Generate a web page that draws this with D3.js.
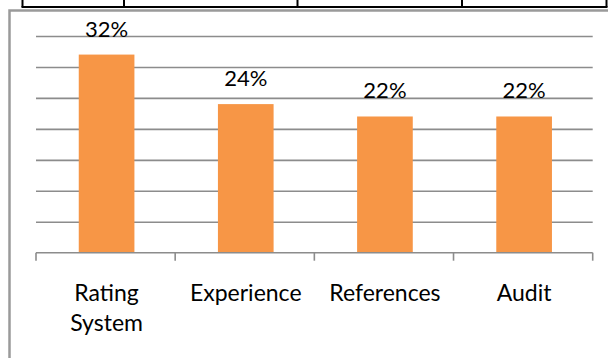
<!DOCTYPE html>
<html>
<head>
<meta charset="utf-8">
<script src="https://cdn.jsdelivr.net/npm/d3@7"></script>
<style>
  html, body { margin: 0; padding: 0; background: #ffffff; }
  svg { display: block; }
  text { font-family: Lato, "Open Sans", sans-serif; fill: #000; }
</style>
</head>
<body>
<script>
// Survey criteria and the share of respondents naming each one
const categories = ["Rating System", "Experience", "References", "Audit"];
const shares = [32, 24, 22, 22];
const gridTicks = [5, 10, 15, 20, 25, 30, 35];
const valueLabels = ["32%", "24%", "22%", "22%"];
// Category labels broken into display lines
const categoryLines = [["Rating", "System"], ["Experience"], ["References"], ["Audit"]];
// Column edges of the table row sitting just above the chart
const tableColumns = [22.5, 124, 297.5, 462, 606.5];

const W = 608, H = 358;
const plot = { left: 36, right: 592.7, top: 36, bottom: 252.7 };

const svg = d3.select("body").append("svg")
  .attr("width", W).attr("height", H);

// Table fragment above the chart frame
const table = svg.append("g").attr("stroke", "#000").attr("stroke-width", 2);
table.append("line")
  .attr("x1", tableColumns[0] - 1).attr("x2", tableColumns[tableColumns.length - 1] + 1)
  .attr("y1", 7).attr("y2", 7);
table.selectAll("line.col").data(tableColumns).join("line")
  .attr("class", "col")
  .attr("x1", d => d).attr("x2", d => d)
  .attr("y1", 0).attr("y2", 7);

// Chart frame (open at the right and bottom edges of the view)
svg.append("path")
  .attr("d", `M9.5,${H} V10.5 H${W}`)
  .attr("fill", "none")
  .attr("stroke", "#9a9a9a")
  .attr("stroke-width", 2.5);

const x = d3.scaleBand()
  .domain(categories)
  .range([plot.left, plot.right])
  .paddingInner(0).paddingOuter(0);

const y = d3.scaleLinear()
  .domain([0, 35])
  .range([plot.bottom, plot.top]);

// Horizontal gridlines
const grid = svg.append("g")
  .attr("transform", `translate(${plot.left},0)`)
  .call(d3.axisLeft(y).tickValues(gridTicks).tickSize(-(plot.right - plot.left)).tickFormat(""));
grid.select(".domain").remove();
grid.selectAll(".tick line").attr("stroke", "#8c8c8c").attr("stroke-width", 1.6);

// Bars
const barW = x.bandwidth() * 0.4;
svg.append("g").selectAll("rect").data(categories).join("rect")
  .attr("x", d => x(d) + x.bandwidth() / 2 - barW / 2 + 1)
  .attr("width", barW)
  .attr("y", (d, i) => y(shares[i]))
  .attr("height", (d, i) => y(0) - y(shares[i]))
  .attr("fill", "#f79646");

// Category axis with tick marks at the band edges
const axis = svg.append("g").attr("stroke", "#8c8c8c").attr("stroke-width", 1.6);
axis.append("line")
  .attr("x1", plot.left).attr("x2", plot.right)
  .attr("y1", y(0)).attr("y2", y(0));
const edges = categories.map(c => x(c)).concat([x.range()[1]]);
axis.selectAll("line.edge").data(edges).join("line")
  .attr("class", "edge")
  .attr("x1", d => d).attr("x2", d => d)
  .attr("y1", y(0)).attr("y2", y(0) + 8);

// Category labels
const labels = svg.append("g").selectAll("text").data(categories).join("text")
  .attr("text-anchor", "middle")
  .attr("font-size", 23)
  .attr("x", d => x(d) + x.bandwidth() / 2 + 1)
  .attr("y", 300.5);
labels.each(function(d, i) {
  const t = d3.select(this);
  categoryLines[i].forEach((line, j) => {
    t.append("tspan")
      .attr("x", x(d) + x.bandwidth() / 2 + 1)
      .attr("dy", j === 0 ? 0 : 30)
      .text(line);
  });
});

// Value labels above each bar
svg.append("g").selectAll("text").data(categories).join("text")
  .attr("text-anchor", "middle")
  .attr("font-size", 22)
  .attr("x", d => x(d) + x.bandwidth() / 2 + 1)
  .attr("y", (d, i) => y(shares[i]) - 18)
  .text((d, i) => valueLabels[i]);
</script>
</body>
</html>
